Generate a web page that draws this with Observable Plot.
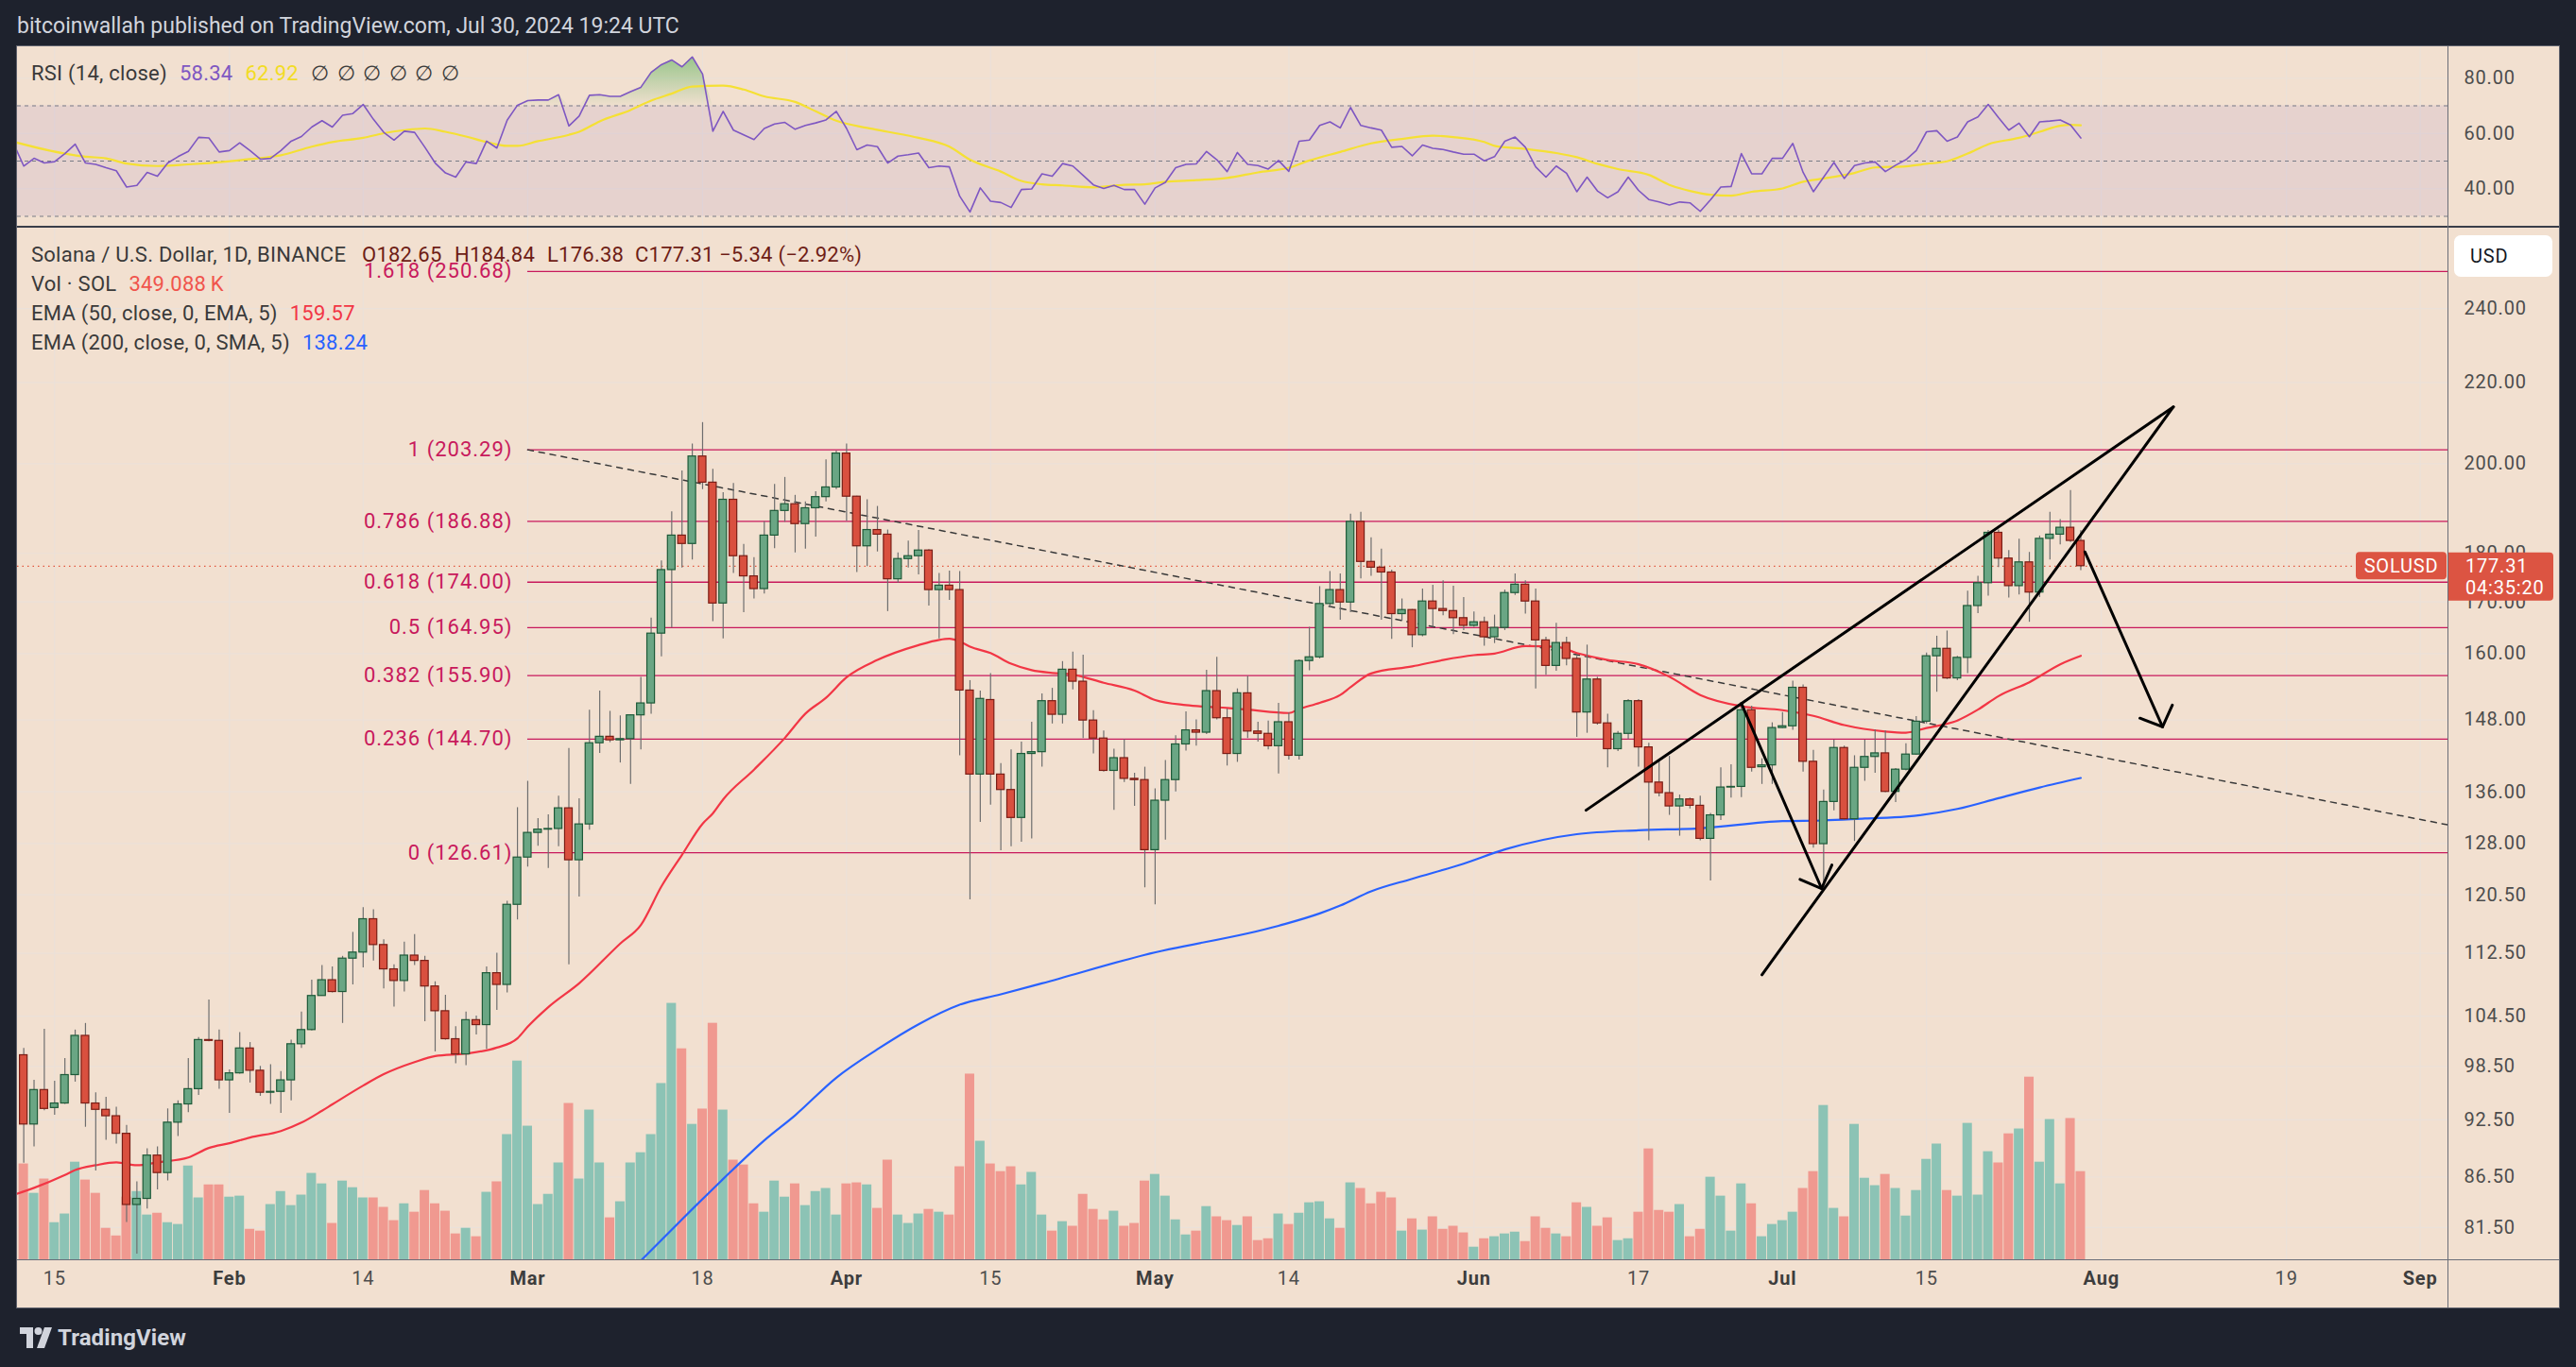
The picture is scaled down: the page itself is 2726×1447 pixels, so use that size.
<!DOCTYPE html>
<html><head><meta charset="utf-8">
<script src="https://cdn.jsdelivr.net/npm/d3@7"></script>
<script src="https://cdn.jsdelivr.net/npm/@observablehq/plot@0.6"></script>
<style>
html,body{margin:0;padding:0;background:#1e222d;}
#root{position:relative;width:2726px;height:1447px;overflow:hidden;background:#1e222d;font-family:Roboto,"Noto Sans",sans-serif;}
.abs{position:absolute;}
#frame{left:17px;top:48px;width:2690px;height:1335px;border:1px solid #5d606b;background:#f2e0d0;z-index:0;}
.leg{font-size:22px;line-height:26px;letter-spacing:0.25px;color:#3a3a3a;white-space:nowrap;z-index:5;}
.sep{z-index:4;}
svg{position:absolute;}
</style></head>
<body><div id="root">
<div class="abs" style="left:18px;top:14px;font-size:23px;line-height:28px;color:#d1d4dc;">bitcoinwallah published on TradingView.com, Jul 30, 2024 19:24 UTC</div>
<div id="frame" class="abs"></div>
<div class="abs" style="left:21px;top:1402px;display:flex;align-items:center;color:#d1d4dc;z-index:5">
 <svg style="position:relative" width="34" height="22" viewBox="0 0 34 22"><path d="M0 0h14v22H7V7H0z" fill="#d1d4dc"/><circle cx="19.5" cy="4" r="4" fill="#d1d4dc"/><path d="M26 0h8l-8 22h-8z" fill="#d1d4dc"/></svg>
 <span style="margin-left:6px;font-size:24px;font-weight:bold;letter-spacing:0.1px">TradingView</span>
</div>
</div>
<script>
// ---------- DATA ----------
const firstDay = "2024-01-12";
const opens = [99.8,92.0,95.8,93.8,94.3,97.5,102.1,94.3,93.6,92.9,91.0,83.7,84.3,88.7,86.9,92.2,94.2,95.9,101.6,101.5,
96.9,97.7,100.6,98.0,95.5,95.6,96.9,101.1,102.8,107.0,109.0,107.5,111.8,112.6,117.1,113.6,110.4,108.9,112.2,111.5,108.2,105.1,101.7,99.9,104.0,103.4,109.9,108.4,119.1,
125.9,129.6,130.1,130.2,133.4,125.5,130.9,144.0,145.1,144.5,144.7,148.8,150.9,163.8,176.5,183.8,182.0,201.7,195.6,169.7,191.7,179.4,175.2,172.6,183.8,189.2,190.7,186.3,189.8,192.3,194.5,
202.4,192.4,181.5,185.0,184.0,174.6,178.8,179.4,180.6,172.4,173.3,172.4,153.2,138.8,151.5,138.8,136.3,131.9,142.2,142.5,151.3,148.9,157.0,154.8,147.9,144.8,139.4,141.5,138.1,137.9,
127.0,134.6,137.9,143.8,146.2,145.8,153.1,148.3,142.2,152.7,146.0,145.6,143.5,147.6,141.9,158.6,159.3,169.6,172.4,169.9,186.8,178.2,177.0,176.0,167.6,168.4,163.5,170.1,168.6,168.2,166.8,
165.3,166.0,163.1,164.9,171.8,173.5,170.1,162.5,157.7,162.0,159.0,149.3,155.2,147.4,143.0,145.6,151.3,143.3,137.5,135.8,133.7,134.8,133.8,128.7,132.3,136.7,136.8,149.7,140.0,140.3,
146.6,146.9,153.7,140.9,127.9,134.4,143.2,131.7,139.9,141.7,142.3,136.0,139.6,142.1,147.7,159.5,160.9,155.4,159.2,169.2,173.8,184.4,178.9,173.2,178.1,171.9,183.1,184.0,185.5,182.65];
const highs = [100.6,96.9,102.9,96.8,99.4,102.8,103.6,95.5,95.0,93.9,91.9,86.0,89.4,89.6,93.7,94.6,99.4,101.9,106.5,102.8,
98.1,102.5,101.3,98.5,98.7,97.9,101.6,105.0,109.0,110.9,110.7,112.1,115.3,118.7,118.4,114.3,111.0,114.0,115.0,112.1,108.8,107.1,103.2,105.0,104.5,110.7,112.5,119.6,133.5,
137.7,131.8,132.4,135.3,143.1,134.9,149.7,153.1,149.5,148.7,148.9,155.6,166.8,178.4,189.0,198.3,204.7,209.9,198.7,193.3,195.4,181.9,179.1,186.8,195.2,196.8,192.7,191.2,193.5,200.9,203.0,
204.7,192.5,191.7,190.2,185.0,180.1,182.6,184.9,180.8,175.8,176.3,176.2,155.0,153.1,156.3,140.6,142.9,144.2,147.6,152.6,153.6,158.5,160.3,159.7,149.6,146.1,143.0,144.6,139.0,140.0,
136.5,141.1,145.3,149.4,148.0,156.9,159.3,149.9,153.5,155.8,147.6,147.8,150.9,149.2,158.8,165.0,173.1,176.2,175.7,188.5,188.9,183.3,180.9,176.5,170.6,168.5,172.6,173.4,174.3,173.2,170.9,
168.0,167.0,167.4,172.4,175.7,174.3,172.6,163.1,165.8,163.1,159.5,161.6,155.6,149.0,146.0,151.6,151.6,144.0,141.3,141.8,135.5,135.0,135.3,132.6,139.9,140.4,151.0,150.4,141.4,147.5,
149.3,154.9,154.2,142.8,136.3,144.5,143.5,141.9,144.5,146.3,146.1,139.8,143.9,148.6,160.1,163.3,164.3,159.5,172.2,175.2,184.9,185.0,180.6,183.0,180.2,183.7,188.9,187.3,193.8,184.84];
const lows = [87.9,89.6,93.5,93.0,94.2,96.7,91.7,87.1,90.3,89.9,82.0,79.0,83.3,85.2,86.1,90.7,93.3,95.2,101.4,95.9,
93.2,97.6,96.6,95.1,94.2,93.2,94.6,100.6,102.7,107.0,107.4,103.6,108.4,110.6,111.5,107.9,105.6,107.5,110.9,103.8,100.2,101.6,98.8,98.6,102.2,100.5,105.2,107.4,117.0,
124.5,127.6,124.3,127.5,111.0,120.2,130.0,142.3,144.1,140.7,137.2,142.9,149.0,159.4,164.9,176.9,178.6,194.0,166.1,162.8,175.8,167.9,170.6,171.6,181.0,186.7,180.1,180.9,183.5,191.2,194.0,
186.9,176.0,177.2,180.3,168.1,173.8,176.9,175.5,169.2,162.8,170.3,141.9,119.8,131.2,133.9,126.9,127.5,128.2,128.7,140.0,147.3,147.3,153.3,144.8,142.2,139.2,133.1,137.5,133.7,121.5,
119.1,128.5,136.0,142.7,143.5,145.5,148.0,140.2,140.8,144.8,144.2,142.9,138.9,141.2,141.2,156.8,159.0,168.8,166.4,167.9,174.7,175.2,166.4,162.7,166.2,161.1,163.2,165.0,167.3,163.6,164.4,
165.0,161.4,161.9,164.4,171.3,167.6,153.5,156.0,156.7,157.7,145.0,145.7,147.1,139.9,142.6,144.6,140.0,128.4,135.2,132.3,129.1,133.3,128.4,122.5,131.5,135.0,135.1,139.2,137.2,137.2,
146.5,146.2,139.2,127.3,121.4,133.0,131.5,128.3,137.7,139.0,135.9,134.3,139.4,142.0,147.3,152.9,155.2,155.0,156.3,167.7,171.2,177.0,170.8,171.4,166.0,170.9,178.6,181.8,182.3,176.38];
const closes = [92.0,95.8,93.7,94.3,97.5,102.1,94.3,93.6,92.9,91.0,83.7,84.3,88.7,86.9,92.2,94.2,95.9,101.6,101.5,96.9,
97.7,100.6,98.0,95.5,95.6,96.9,101.1,102.8,107.0,109.0,107.5,111.8,112.6,117.1,113.6,110.4,108.9,112.2,111.5,108.2,105.1,101.7,99.9,104.0,103.4,109.9,108.4,119.1,125.9,
129.6,130.1,130.2,133.4,125.5,130.9,144.0,145.1,144.5,144.7,148.8,150.9,163.8,176.5,183.8,182.0,201.7,195.6,169.7,191.7,179.4,175.2,172.6,183.8,189.2,190.7,186.3,189.8,192.3,194.5,202.4,
192.4,181.5,185.0,184.0,174.6,178.8,179.4,180.6,172.4,173.3,172.4,153.2,138.8,151.7,138.8,136.3,131.9,142.2,142.5,151.3,148.9,157.0,154.8,147.9,144.8,139.4,141.5,138.1,137.9,127.0,
134.6,137.9,143.8,146.2,145.8,153.1,148.3,142.2,152.7,146.0,145.6,143.5,147.6,141.9,158.6,159.3,169.6,172.4,169.9,186.8,178.2,177.0,176.0,167.6,168.4,163.5,170.1,168.6,168.2,166.8,165.3,
166.0,163.1,164.9,171.8,173.5,170.1,162.5,157.7,162.0,159.0,149.3,155.2,147.4,143.0,145.6,151.3,143.3,137.5,135.8,133.7,134.8,133.8,128.7,132.3,136.7,136.8,149.7,139.9,140.3,146.6,
146.9,153.7,140.9,127.9,134.4,143.2,131.7,139.9,141.7,142.3,136.0,139.6,142.1,147.7,159.5,160.9,155.4,159.2,169.2,173.8,184.4,178.9,173.2,178.1,171.9,183.1,184.0,185.5,182.65,177.31];
const volumesK = [379,264,320,149,183,386,316,264,127,97,249,271,179,186,149,142,371,246,297,297,
249,253,123,116,220,271,216,257,342,301,146,312,286,246,246,209,157,223,190,275,223,194,105,127,94,268,309,494,782,
527,220,260,383,616,320,590,383,168,231,383,423,494,694,1008,830,534,594,930,590,394,375,223,190,312,249,301,216,271,283,179,
301,305,297,205,394,179,146,183,201,190,179,368,731,468,379,349,368,297,346,179,116,153,135,260,201,160,194,135,146,312,
338,253,160,101,116,212,172,157,138,172,79,86,183,142,186,227,231,164,127,305,283,223,268,246,116,164,120,172,123,135,109,
53,86,94,105,112,75,172,127,105,94,227,209,135,168,79,86,190,438,197,190,220,94,123,327,253,116,301,223,94,142,
157,190,283,349,608,205,172,534,323,294,338,283,175,275,397,457,275,253,538,257,427,383,497,516,719,386,553,301,557,349.088];

const rsiFirstDay = "2024-01-11";
const rsiValues = [56.4,
48.2,51.0,49.3,49.8,52.7,56.1,49.3,48.8,47.6,46.5,40.6,41.2,45.9,44.5,49.3,51.6,53.5,58.6,58.4,53.3,
53.8,56.6,53.8,50.7,51.0,53.8,57.2,58.9,62.3,64.6,62.3,66.6,67.2,70.5,65.1,60.4,57.6,60.8,60.4,55.0,49.3,45.7,44.2,49.7,49.1,57.2,54.7,64.8,70.2,
71.9,72.1,72.1,74.0,62.7,66.3,73.8,74.0,73.4,73.4,75.1,76.7,82.1,84.9,86.6,84.1,87.7,81.5,60.8,68.0,61.2,59.5,57.8,61.8,63.4,64.0,61.5,62.9,63.8,64.9,68.0,
61.8,54.1,55.8,55.2,49.3,51.8,52.3,52.9,47.6,48.2,47.9,37.3,31.6,40.3,35.5,35.0,33.2,39.7,39.9,45.4,44.5,49.1,48.2,44.8,41.4,40.1,41.2,39.7,39.7,34.4,
40.3,42.3,47.6,48.8,49.0,53.5,50.5,46.2,53.1,48.8,48.4,47.1,50.2,46.3,57.2,57.6,62.9,64.2,62.0,69.4,62.9,62.0,61.2,55.0,55.3,51.9,55.8,54.6,54.2,53.3,52.5,
52.5,50.1,51.6,57.2,58.7,55.0,47.9,44.2,48.2,45.6,38.9,44.2,39.2,36.7,38.9,44.2,39.4,36.1,35.2,34.1,35.2,34.9,31.8,36.0,40.6,40.8,52.7,45.4,45.4,51.0,
51.0,56.4,45.9,38.9,44.2,49.5,43.7,48.4,49.3,49.7,46.2,48.5,50.5,53.8,60.6,61.0,57.2,58.7,64.2,66.0,70.5,65.7,61.2,63.7,58.8,64.2,64.5,64.9,63.1,58.34];

const rsiMADates = ["2024-01-11","2024-01-16","2024-01-18","2024-01-20","2024-01-22","2024-01-25","2024-01-28","2024-01-30",
"2024-02-03","2024-02-06","2024-02-09","2024-02-11","2024-02-14","2024-02-16","2024-02-18","2024-02-20","2024-02-22","2024-02-24","2024-02-26","2024-02-28","2024-02-29",
"2024-03-02","2024-03-05","2024-03-06","2024-03-08","2024-03-11","2024-03-13","2024-03-15","2024-03-17","2024-03-20","2024-03-22","2024-03-24","2024-03-27","2024-03-29","2024-03-31",
"2024-04-03","2024-04-05","2024-04-08","2024-04-11","2024-04-13","2024-04-16","2024-04-18","2024-04-20","2024-04-22","2024-04-25","2024-04-28","2024-04-30",
"2024-05-02","2024-05-05","2024-05-08","2024-05-11","2024-05-14","2024-05-16","2024-05-19","2024-05-22","2024-05-25","2024-05-28","2024-05-30",
"2024-06-02","2024-06-03","2024-06-06","2024-06-09","2024-06-11","2024-06-13","2024-06-15","2024-06-18","2024-06-20","2024-06-22","2024-06-24","2024-06-26","2024-06-28",
"2024-07-01","2024-07-03","2024-07-05","2024-07-08","2024-07-10","2024-07-13","2024-07-15","2024-07-17","2024-07-19","2024-07-21","2024-07-24","2024-07-26","2024-07-28","2024-07-29","2024-07-30"];
const rsiMAValues = [57.0,52.7,51.6,51.0,49.1,48.2,48.8,49.3,
50.7,52.1,55.2,56.9,58.4,60.1,61.2,61.8,60.6,58.9,56.9,55.5,55.5,
57.2,59.5,60.6,64.4,68.5,71.9,74.4,77.0,77.3,75.9,73.4,71.4,68.0,64.6,
62.0,60.6,58.4,55.2,50.5,46.2,42.8,41.6,41.2,40.5,41.4,41.6,
42.5,43.1,43.9,45.9,47.6,50.2,53.3,56.4,58.0,59.2,58.7,
56.9,55.5,54.4,52.9,51.4,49.0,47.1,45.0,41.4,39.2,37.8,37.5,38.9,
40.1,42.5,43.7,45.7,47.7,48.1,49.0,49.9,52.7,56.1,58.4,60.6,62.8,63.1,62.92];

const ema50Dates = ["2024-01-11","2024-01-13","2024-01-16","2024-01-17","2024-01-19","2024-01-21","2024-01-23","2024-01-25","2024-01-28","2024-01-30",
"2024-02-01","2024-02-03","2024-02-06","2024-02-08","2024-02-10","2024-02-11","2024-02-14","2024-02-16","2024-02-19","2024-02-21","2024-02-24","2024-02-27","2024-02-29",
"2024-03-01","2024-03-03","2024-03-06","2024-03-10","2024-03-12","2024-03-14","2024-03-16","2024-03-18","2024-03-19","2024-03-20","2024-03-23","2024-03-26","2024-03-28","2024-03-30",
"2024-04-01","2024-04-04","2024-04-08","2024-04-10","2024-04-11","2024-04-12","2024-04-13","2024-04-15","2024-04-17","2024-04-19","2024-04-21","2024-04-23","2024-04-26","2024-04-29",
"2024-05-01","2024-05-04","2024-05-06","2024-05-08","2024-05-10","2024-05-14","2024-05-15","2024-05-17","2024-05-19","2024-05-20","2024-05-22","2024-05-26","2024-05-29",
"2024-06-01","2024-06-03","2024-06-06","2024-06-09","2024-06-11","2024-06-14","2024-06-17","2024-06-20","2024-06-23","2024-06-27",
"2024-07-01","2024-07-04","2024-07-07","2024-07-11","2024-07-13","2024-07-15","2024-07-18","2024-07-20","2024-07-22","2024-07-25","2024-07-28","2024-07-30"];
const ema50Values = [84.7,85.4,86.7,87.2,87.7,88.0,87.7,88.0,88.5,89.5,
90.0,90.6,91.3,92.2,93.5,94.2,96.3,97.6,99.0,99.7,100.0,100.7,101.8,
103.2,105.6,108.6,113.8,116.3,121.7,126.3,131.0,132.6,134.8,139.6,144.9,149.1,151.9,
155.6,158.8,161.6,162.6,162.8,162.3,161.3,160.1,158.1,156.9,156.4,156.1,154.6,153.2,
151.5,150.6,150.3,150.1,149.8,149.2,149.9,151.0,152.4,153.8,156.3,157.6,158.8,
159.7,160.0,161.4,161.3,160.1,158.8,158.0,155.7,152.4,150.4,
149.7,148.7,147.1,146.0,145.8,146.6,147.9,149.8,152.2,154.7,158.0,159.57];

const ema200Dates = ["2024-03-12","2024-03-16","2024-03-21","2024-03-24","2024-03-27","2024-03-31","2024-04-04","2024-04-08","2024-04-12","2024-04-16","2024-04-20","2024-04-30",
"2024-05-13","2024-05-17","2024-05-19","2024-05-22","2024-05-26","2024-05-31","2024-06-04","2024-06-11","2024-06-17","2024-06-23",
"2024-07-01","2024-07-05","2024-07-09","2024-07-13","2024-07-18","2024-07-22","2024-07-26","2024-07-30"];
const ema200Values = [78.4,82.3,87.3,90.3,93.0,97.2,100.5,103.5,105.9,107.2,108.6,112.3,
116.2,117.9,119.0,121.0,122.8,125.0,127.1,129.4,130.0,130.3,
131.4,131.5,131.8,132.1,133.3,135.0,136.7,138.24];

const fibLevels = ["1.618","1","0.786","0.618","0.5","0.382","0.236","0"];
const fibPrices = [250.68,203.29,186.88,174.00,164.95,155.90,144.70,126.61];
const fibStartDate = "2024-03-01";

const priceTicks = [240,220,200,180,170,160,148,136,128,120.5,112.5,104.5,98.5,92.5,86.5,81.5];
const rsiTicks = [80,60,40];
const rsiLevels = [70,50,30];
const timeTickDates = ["2024-01-15","2024-02-01","2024-02-14","2024-03-01","2024-03-18","2024-04-01","2024-04-15","2024-05-01","2024-05-14","2024-06-01","2024-06-17","2024-07-01","2024-07-15","2024-08-01","2024-08-19","2024-09-01"];
const timeTickLabels = ["15","Feb","14","Mar","18","Apr","15","May","14","Jun","17","Jul","15","Aug","19","Sep"];
const timeTickIsMonth = [0,1,0,1,0,1,0,1,0,1,0,1,0,1,0,1];

// drawings (date, price)
const trendDates = ["2024-03-01T00:00:00Z","2024-09-03T19:00:00Z"];
const trendPrices = [203.29,130.8];
const wedgeUpperDates = ["2024-06-11T21:36:00Z","2024-08-08T00:00:00Z"];
const wedgeUpperPrices = [133.1,213.8];
const wedgeLowerDates = ["2024-06-29T00:00:00Z","2024-08-08T00:00:00Z"];
const wedgeLowerPrices = [109.7,213.8];
const arrow1Dates = ["2024-06-27T00:00:00Z","2024-07-04T19:12:00Z"];
const arrow1Prices = [150.9,121.4];
const arrow1HeadDates = ["2024-07-02T16:48:00Z","2024-07-04T19:12:00Z","2024-07-05T19:12:00Z"];
const arrow1HeadPrices = [122.7,121.4,124.8];
const arrow2Dates = ["2024-07-30T09:36:00Z","2024-08-06T22:48:00Z"];
const arrow2Prices = [180.3,146.8];
const arrow2HeadDates = ["2024-08-04T18:00:00Z","2024-08-06T22:48:00Z","2024-08-07T21:36:00Z"];
const arrow2HeadPrices = [148.3,146.8,150.6];

const xDomainDates = ["2024-01-11T09:22:00Z","2024-09-03T18:58:00Z"];
const priceDomain = [78.39,264.07];
const rsiDomain = [26.07,91.37];
const volDomain = [0,4048];

// ---------- BUILD ----------
const DAY = 86400000;
const P = s => new Date(s.length > 10 ? s : s + "T00:00:00Z");
const t0 = +P(firstDay);
const candles = opens.map((o,i)=>({date:new Date(t0+i*DAY),open:o,high:highs[i],low:lows[i],close:closes[i],vol:volumesK[i]}));
const upC = candles.filter(d=>d.close>=d.open), dnC = candles.filter(d=>d.close<d.open);
const r0 = +P(rsiFirstDay);
const rsiData = rsiValues.map((v,i)=>({date:new Date(r0+i*DAY),v}));
const rsiMA = rsiMADates.map((d,i)=>({date:P(d),v:rsiMAValues[i]}));
const ema50 = ema50Dates.map((d,i)=>({date:P(d),v:ema50Values[i]}));
const ema200 = ema200Dates.map((d,i)=>({date:P(d),v:ema200Values[i]}));
const fib = fibLevels.map((l,i)=>({level:l,price:fibPrices[i]}));
const ticks = timeTickDates.map((d,i)=>({date:P(d),label:timeTickLabels[i],month:timeTickIsMonth[i]}));
const pts = (ds,ps)=>ds.map((d,i)=>({date:P(d),p:ps[i]}));
const xDomain = xDomainDates.map(P);
const fibStart = P(fibStartDate);

const W=2708, ML=18, MR=117;
const GRID="#ebe1d9", TXT="#4d4d4d";
const UPF="#6aa684", UPS="#1d5a38", DNF="#d9503f", DNS="#7a1d15", WICK="#6e6e6e";
const FIB="#c8195c";
const baseStyle={background:"transparent",fontFamily:"Roboto, sans-serif",fontSize:"20px",color:TXT,overflow:"visible"};
const root=document.getElementById("root");
function place(svg,top,z){svg.style.left="0px";svg.style.top=top+"px";svg.style.zIndex=z;root.appendChild(svg);}

// RSI panel
const rsiPlot = Plot.plot({
  width:W,height:191,marginLeft:ML,marginRight:MR,marginTop:0,marginBottom:0,
  x:{type:"utc",domain:xDomain,axis:null},
  y:{domain:rsiDomain,axis:null},
  style:baseStyle,
  marks:[
    Plot.ruleY(rsiTicks,{stroke:GRID,strokeWidth:1.2}),
    Plot.ruleX(ticks,{x:"date",stroke:GRID,strokeWidth:1.2}),
    Plot.rect([0],{x1:()=>xDomain[0],x2:()=>xDomain[1],y1:()=>rsiLevels[2],y2:()=>rsiLevels[0],fill:"#7e57c2",fillOpacity:0.1}),
    Plot.ruleY(rsiLevels,{stroke:"#787b86",strokeDasharray:"4,4",strokeWidth:1.2}),
    Plot.areaY(rsiData,{x:"date",y1:()=>70,y2:d=>Math.max(70,d.v),fill:"url(#obGrad)",clip:true}),
    Plot.line(rsiMA,{x:"date",y:"v",stroke:"#f5e034",strokeWidth:2.2,curve:"monotone-x",clip:true}),
    Plot.line(rsiData,{x:"date",y:"v",stroke:"#7e57c2",strokeWidth:1.6,clip:true}),
    Plot.axisY(rsiTicks,{anchor:"right",tickSize:0,tickPadding:16,tickFormat:d=>d.toFixed(2),label:null,fill:TXT})
  ]
});
{
  const ys=rsiPlot.scale("y");
  const defs=d3.select(rsiPlot).insert("defs",":first-child");
  const g=defs.append("linearGradient").attr("id","obGrad").attr("gradientUnits","userSpaceOnUse")
    .attr("x1",0).attr("x2",0).attr("y1",ys.apply(88)).attr("y2",ys.apply(70));
  g.append("stop").attr("offset",0).attr("stop-color","#4caf50").attr("stop-opacity",0.55);
  g.append("stop").attr("offset",1).attr("stop-color","#4caf50").attr("stop-opacity",0.02);
}
d3.select(rsiPlot).selectAll("text").style("letter-spacing","0.8px");
place(rsiPlot,49,1);

const mainOpts = (marks,extra={})=>Plot.plot(Object.assign({
  width:W,height:1144,marginLeft:ML,marginRight:MR,marginTop:0,marginBottom:50,
  x:{type:"utc",domain:xDomain,axis:null},
  y:{type:"log",domain:priceDomain,axis:null},
  style:baseStyle,marks},extra));

// grid + axes layer
const gridPlot = mainOpts([
  Plot.ruleY(priceTicks,{stroke:GRID,strokeWidth:1.2}),
  Plot.ruleX(ticks,{x:"date",stroke:GRID,strokeWidth:1.2}),
  Plot.axisY(priceTicks,{anchor:"right",tickSize:0,tickPadding:16,tickFormat:d=>d.toFixed(2),label:null,fill:TXT}),
  Plot.text(ticks.filter(d=>d.month),{x:"date",text:"label",frameAnchor:"bottom",dy:25,fontWeight:"bold",fill:"#3d3d3d",fontSize:20}),
  Plot.text(ticks.filter(d=>!d.month),{x:"date",text:"label",frameAnchor:"bottom",dy:25,fill:"#4d4d4d",fontSize:20})
]);
d3.select(gridPlot).selectAll("text").style("letter-spacing","0.8px");
place(gridPlot,240,1);

// volume layer
const volPlot = Plot.plot({
  width:W,height:1144,marginLeft:ML,marginRight:MR,marginTop:0,marginBottom:50,
  x:{type:"utc",domain:xDomain,axis:null},y:{domain:volDomain,axis:null},style:baseStyle,
  marks:[
    Plot.rect(upC,{x1:d=>new Date(+d.date-0.46*DAY),x2:d=>new Date(+d.date+0.46*DAY),y1:()=>0,y2:"vol",fill:"#8cc3b5",clip:true}),
    Plot.rect(dnC,{x1:d=>new Date(+d.date-0.46*DAY),x2:d=>new Date(+d.date+0.46*DAY),y1:()=>0,y2:"vol",fill:"#f09990",clip:true})
  ]
});
place(volPlot,240,2);

// price layer
const bodyX1=d=>new Date(+d.date-0.37*DAY), bodyX2=d=>new Date(+d.date+0.37*DAY);
const blk={stroke:"#000",strokeWidth:3,strokeLinecap:"round",strokeLinejoin:"round",clip:true};
const mainPlot = mainOpts([
  Plot.ruleY(fib,{y:"price",x1:()=>fibStart,x2:()=>xDomain[1],stroke:FIB,strokeWidth:1.3,clip:true}),
  Plot.text(fib,{x:()=>fibStart,y:"price",text:d=>`${d.level} (${d.price.toFixed(2)})`,textAnchor:"end",dx:-16,fill:FIB,fontSize:22}),
  Plot.ruleY([closes[closes.length-1]],{stroke:"#e2573f",strokeDasharray:"1.5,4",strokeWidth:1.3}),
  Plot.line(pts(trendDates,trendPrices),{x:"date",y:"p",stroke:"#3a3a3a",strokeWidth:1.5,strokeDasharray:"6,6",clip:true}),
  Plot.line(ema200,{x:"date",y:"v",stroke:"#2962ff",strokeWidth:2.2,curve:"monotone-x",clip:true}),
  Plot.line(ema50,{x:"date",y:"v",stroke:"#f23645",strokeWidth:2.2,curve:"monotone-x",clip:true}),
  Plot.ruleX(candles,{x:"date",y1:"low",y2:"high",stroke:WICK,strokeWidth:1.2,clip:true}),
  Plot.rect(upC,{x1:bodyX1,x2:bodyX2,y1:"open",y2:"close",fill:UPF,stroke:UPS,strokeWidth:1.2,clip:true}),
  Plot.rect(dnC,{x1:bodyX1,x2:bodyX2,y1:"open",y2:"close",fill:DNF,stroke:DNS,strokeWidth:1.2,clip:true}),
  Plot.line(pts(wedgeUpperDates,wedgeUpperPrices),{x:"date",y:"p",...blk}),
  Plot.line(pts(wedgeLowerDates,wedgeLowerPrices),{x:"date",y:"p",...blk}),
  Plot.line(pts(arrow1Dates,arrow1Prices),{x:"date",y:"p",...blk}),
  Plot.line(pts(arrow1HeadDates,arrow1HeadPrices),{x:"date",y:"p",...blk}),
  Plot.line(pts(arrow2Dates,arrow2Prices),{x:"date",y:"p",...blk}),
  Plot.line(pts(arrow2HeadDates,arrow2HeadPrices),{x:"date",y:"p",...blk})
]);
d3.select(mainPlot).selectAll("text").style("letter-spacing","1px");
{
  const lastClose=closes[closes.length-1];
  const ys=mainPlot.scale("y"), xs=mainPlot.scale("x");
  const yy=ys.apply(lastClose), xr=xs.range[1];
  const s=d3.select(mainPlot).append("g").style("font-size","20px").style("letter-spacing","0.8px");
  s.append("rect").attr("x",xr-98).attr("y",yy-14.5).attr("width",96).attr("height",29).attr("rx",4).attr("fill","#dc5442");
  s.append("text").attr("x",xr-50).attr("y",yy).attr("dy","0.36em").attr("text-anchor","middle").attr("fill","#fff").text("SOLUSD");
  s.append("path").attr("d",`M${xr},${yy-14}H${xr+107}a4,4 0 0 1 4,4V${yy+33}a4,4 0 0 1 -4,4H${xr}Z`).attr("fill","#dc5442");
  s.append("text").attr("x",xr+18).attr("y",yy).attr("dy","0.36em").attr("text-anchor","start").attr("fill","#fff").text(lastClose.toFixed(2));
  s.append("text").attr("x",xr+18).attr("y",yy+23).attr("dy","0.36em").attr("text-anchor","start").attr("fill","#fff").text("04:35:20");
}
place(mainPlot,240,3);

// separators
function line(l,t,w,h,c){const d=document.createElement("div");d.className="abs sep";d.style.cssText+=`left:${l}px;top:${t}px;width:${w}px;height:${h}px;background:${c};`;root.appendChild(d);}
line(18,239,2690,2,"#3a3e49");
line(2590,49,1,1335,"#6a6d78");
line(18,1333,2690,1,"#6a6d78");
// USD button
{const d=document.createElement("div");d.className="abs";d.style.cssText="left:2597px;top:249px;width:104px;height:44px;background:#fff;border-radius:7px;z-index:5;font-size:20px;line-height:44px;color:#131722;box-sizing:border-box;padding-left:17px;letter-spacing:0.8px;";d.textContent="USD";root.appendChild(d);}

// legends
function leg(left,top,html){const d=document.createElement("div");d.className="abs leg";d.style.left=left+"px";d.style.top=top+"px";d.innerHTML=html;root.appendChild(d);return d;}
const last=a=>a[a.length-1];
leg(33,65,`RSI (14, close)<span style="color:#7e57c2;margin-left:13px">${last(rsiValues).toFixed(2)}</span><span style="color:#f2dc25;margin-left:13px">${last(rsiMAValues).toFixed(2)}</span>`+
  `<span style="margin-left:13px">${Array(6).fill('<span style="display:inline-block;width:27.6px">∅</span>').join("")}</span>`);
const lc=last(closes), pc=closes[closes.length-2], ch=lc-pc;
const fmtS=v=>(v<0?"\u2212":"+")+Math.abs(v).toFixed(2);
leg(33,257,"Solana / U.S. Dollar, 1D, BINANCE");
const OH="#6e1d16";
leg(383,257,`<span style="color:${OH}">O${last(opens).toFixed(2)}</span>`);
leg(481,257,`<span style="color:${OH}">H${last(highs).toFixed(2)}</span>`);
leg(579,257,`<span style="color:${OH}">L${last(lows).toFixed(2)}</span>`);
leg(672,257,`<span style="color:${OH}">C${lc.toFixed(2)}</span>`);
leg(761,257,`<span style="color:${OH}">${fmtS(ch)} (${fmtS(ch/pc*100)}%)</span>`);
leg(33,288,`Vol · SOL<span style="color:#f0544c;margin-left:13px">${last(volumesK).toFixed(3)}\u2009K</span>`);
leg(33,319,`EMA (50, close, 0, EMA, 5)<span style="color:#f23645;margin-left:13px">${last(ema50Values).toFixed(2)}</span>`);
leg(33,350,`EMA (200, close, 0, SMA, 5)<span style="color:#2962ff;margin-left:13px">${last(ema200Values).toFixed(2)}</span>`);
</script>
</body></html>
